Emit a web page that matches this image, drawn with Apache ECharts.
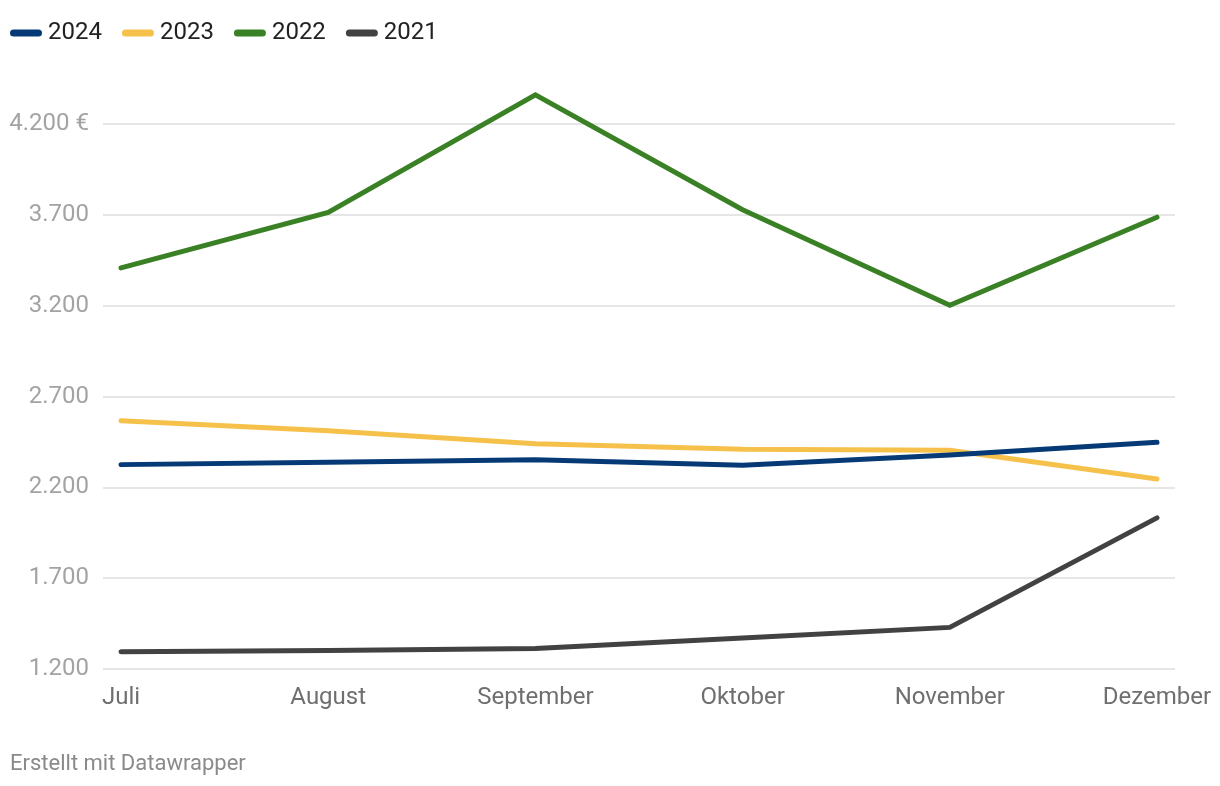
<!DOCTYPE html>
<html>
<head>
<meta charset="utf-8">
<script src="https://cdn.jsdelivr.net/npm/echarts@6/dist/echarts.min.js"></script>
<style>
html,body{margin:0;padding:0;background:#fff;}
#chart{width:1220px;height:786px;}
</style>
</head>
<body>
<div id="chart"></div>
<script>
const months = ['Juli', 'August', 'September', 'Oktober', 'November', 'Dezember'];
const seriesNames = ['2024', '2023', '2022', '2021'];
const values2024 = [2325, 2338, 2352, 2321, 2378, 2448];
const values2023 = [2567, 2512, 2440, 2409, 2404, 2246];
const values2022 = [3408, 3713, 4360, 3728, 3202, 3687];
const values2021 = [1295, 1302, 1313, 1370, 1429, 2032];
const yTicks = [1200, 1700, 2200, 2700, 3200, 3700, 4200];
const footerText = 'Erstellt mit Datawrapper';

const colors = {'2024': '#063a76', '2023': '#f6c14a', '2022': '#3a8126', '2021': '#424242'};
const dataByName = {'2024': values2024, '2023': values2023, '2022': values2022, '2021': values2021};

function fmt(v) {
  const s = String(v).replace(/\B(?=(\d{3})+(?!\d))/g, '.');
  return v === yTicks[yTicks.length - 1] ? s + ' €' : s;
}

const font = 'Roboto, "Noto Sans", sans-serif';
const chart = echarts.init(document.getElementById('chart'), null, {renderer: 'canvas'});

const drawOrder = seriesNames.slice().reverse();
const series = drawOrder.map(name => ({
  name: name,
  type: 'line',
  xAxisIndex: 1,
  yAxisIndex: 1,
  data: dataByName[name],
  showSymbol: false,
  symbol: 'none',
  clip: false,
  lineStyle: {width: 5, color: colors[name], cap: 'round', join: 'miter'},
  itemStyle: {color: colors[name]},
  emphasis: {disabled: true},
  animation: false
}));

chart.setOption({
  animation: false,
  backgroundColor: '#fff',
  textStyle: {fontFamily: font},
  legend: {
    data: seriesNames,
    left: 10,
    top: 21,
    padding: 0,
    itemWidth: 32,
    itemHeight: 7,
    itemGap: 20,
    icon: 'path://M3.5,0 H28.5 A3.5,3.5 0 0 1 28.5,7 H3.5 A3.5,3.5 0 0 1 3.5,0 Z',
    textStyle: {fontSize: 24, color: '#222', fontFamily: font, padding: [0, 0, 0, 1]},
    selectedMode: false
  },
  grid: [
    {left: 103, right: 45, top: 124, height: 545},
    {left: 121, right: 63, top: 124, height: 545}
  ],
  xAxis: [
    {gridIndex: 0, type: 'category', data: months, show: false},
    {
      gridIndex: 1, type: 'category', data: months, boundaryGap: false,
      axisLine: {show: false}, axisTick: {show: false},
      axisLabel: {fontSize: 24, color: '#6f6f6f', margin: 17, fontFamily: font, interval: 0},
      splitLine: {show: false}
    }
  ],
  yAxis: [
    {
      gridIndex: 0, type: 'value', min: 1200, max: 4200, interval: 500,
      axisLine: {show: false}, axisTick: {show: false},
      axisLabel: {fontSize: 24, color: '#a3a3a3', margin: 14, fontFamily: font, formatter: fmt, padding: [4, 0, 0, 0]},
      splitLine: {lineStyle: {color: '#e6e6e6', width: 2}}
    },
    {gridIndex: 1, type: 'value', min: 1200, max: 4200, interval: 500, show: false, splitLine: {show: false}}
  ],
  graphic: [{
    type: 'text', left: 10, top: 753,
    style: {text: footerText, fontSize: 22, fill: '#8a8a8a', fontFamily: font}
  }],
  series: series
});
</script>
</body>
</html>
